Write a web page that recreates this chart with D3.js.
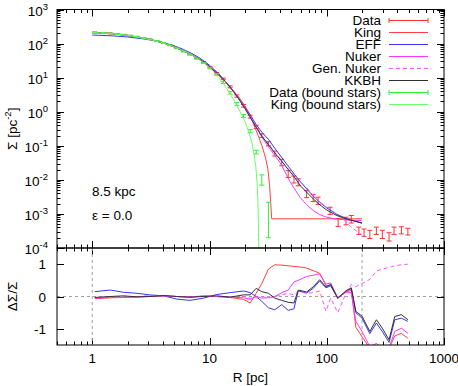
<!DOCTYPE html>
<html>
<head>
<meta charset="utf-8">
<script src="https://cdn.jsdelivr.net/npm/d3@7"></script>
<style>
    body { margin: 0; background: #fff; }
    svg { font-family: "Liberation Sans", Arial, sans-serif; }
</style>
</head>
<body>
<div id="visualization"></div>
<script>
// surface density profile, R in pc, Sigma in pc^-2
var dataR     = [1.05, 1.25, 1.42, 1.62, 1.85, 2.1, 2.4, 2.75, 3.1, 3.55, 4.05, 4.6, 5.25, 6.0, 6.8, 7.8, 8.9, 10.1, 11.5, 13.1, 15.0, 17.1, 19.5, 22.2, 25.0, 27.9, 31.8, 36.0, 41.3, 46.9, 52.5, 57.1, 67.3, 76.6, 84.3, 106.7, 125, 146, 162, 188, 208, 233, 265, 298, 340, 375, 433, 492];
var dataSigma = [210, 205, 198, 190, 180, 170, 158, 145, 133, 120, 104, 90, 74, 60, 49, 37.5, 28.5, 20, 13.4, 9.2, 5.4, 2.9, 1.5, 0.72, 0.36, 0.2, 0.116, 0.06, 0.033, 0.0152, 0.0105, 0.0087, 0.0039, 0.0030, 0.0025, 0.00127, 0.00058, 0.00064, 0.00072, 0.00033, 0.00029, 0.00026, 0.00033, 0.00026, 0.00022, 0.00033, 0.00034, 0.00031];
var dataErr   = [6, 6, 5, 5, 5, 4, 4, 4, 3, 3, 3, 2.5, 2, 2, 1.6, 1.3, 1.1, 0.9, 0.7, 0.5, 0.35, 0.22, 0.13, 0.07, 0.04, 0.025, 0.016, 0.01, 0.007, 0.0035, 0.0024, 0.002, 0.0009, 0.0007, 0.0006, 0.0003, 0.00015, 0.00016, 0.00018, 0.00008, 0.00007, 0.00007, 0.00008, 0.00007, 0.00006, 0.00008, 0.00008, 0.00007];

var boundR     = [1.05, 1.25, 1.42, 1.62, 1.85, 2.1, 2.4, 2.75, 3.1, 3.55, 4.05, 4.6, 5.25, 6.0, 6.8, 7.8, 8.9, 10.1, 11.5, 13.1, 15.0, 17.1, 19.5, 22.2, 25.0, 27.9, 31.8];
var boundSigma = [212, 207, 200, 192, 182, 171, 159, 146, 133, 119, 104, 89, 73, 59, 47.5, 36, 27, 19, 12.5, 7.2, 3.6, 1.7, 0.75, 0.27, 0.066, 0.0105, 0.0012];
var boundErr   = [6, 6, 5, 5, 5, 4, 4, 4, 3, 3, 3, 2.5, 2, 2, 1.6, 1.3, 1.1, 0.9, 0.7, 0.5, 0.3, 0.17, 0.08, 0.03, 0.008, 0.0035, 0.001];

// model fits
var kingR     = [1.0, 1.5, 2, 3, 4, 5, 6, 7, 8, 9, 10, 12, 14, 16, 18, 20, 22, 24, 26, 28, 30, 31.5, 32.5, 33.3, 33.9, 50, 100, 150, 200];
var kingSigma = [215, 198, 176, 138, 107, 81, 62, 48, 37, 28.5, 21, 11.8, 7, 4.1, 2.5, 1.5, 0.85, 0.4, 0.2, 0.1, 0.045, 0.02, 0.007, 0.002, 0.00072, 0.00072, 0.00072, 0.00072, 0.00072];

var effR     = [1.0, 1.5, 2, 3, 4, 5, 6, 7, 8, 9, 10, 12, 14, 16, 18, 20, 22, 25, 28, 32, 36, 41, 47, 53, 60, 70, 80, 90, 100, 120, 150, 200];
var effSigma = [178, 168, 156, 132, 108, 86, 67, 52, 40, 30.5, 23, 13, 7.0, 4.0, 2.3, 1.35, 0.85, 0.42, 0.25, 0.15, 0.085, 0.047, 0.025, 0.0145, 0.0085, 0.0047, 0.0029, 0.002, 0.0015, 0.001, 0.00071, 0.00053];

var nukerR     = [1.0, 1.5, 2, 3, 4, 5, 6, 7, 8, 9, 10, 12, 14, 16, 18, 20, 22, 25, 28, 32, 36, 40, 44, 48.5, 53, 59, 67, 76.5, 87, 99, 115, 129, 160, 198];
var nukerSigma = [215, 197, 175, 137, 106, 80, 61, 47, 36.5, 28, 21.5, 12.2, 7, 4, 2.3, 1.3, 0.76, 0.36, 0.18, 0.09, 0.052, 0.032, 0.017, 0.009, 0.0055, 0.0031, 0.0019, 0.00127, 0.00096, 0.00081, 0.00072, 0.00069, 0.00066, 0.00064];

var genR     = [1.0, 1.5, 2, 3, 4, 5, 6, 7, 8, 9, 10, 12, 14, 16, 18, 20, 22, 25, 28, 32, 36, 41, 47, 53, 59, 67, 80, 95, 113, 135, 157, 180, 198];
var genSigma = [212, 193, 172, 135, 105, 79, 60, 46.5, 36, 28, 21, 12, 6.9, 3.9, 2.2, 1.25, 0.73, 0.37, 0.2, 0.11, 0.065, 0.037, 0.021, 0.013, 0.0087, 0.0061, 0.0029, 0.0018, 0.0012, 0.00075, 0.00045, 0.00031, 0.00025];

var kkbhR     = [1.0, 1.5, 2, 3, 4, 5, 6, 7, 8, 9, 10, 12, 14, 16, 18, 20, 22, 25, 28, 32, 36, 41, 47, 53, 60, 70, 80, 90, 100, 120, 150, 200];
var kkbhSigma = [212, 193, 172, 135, 105, 79, 60, 46.5, 36, 28, 21, 12, 6.9, 3.9, 2.2, 1.25, 0.72, 0.35, 0.19, 0.105, 0.062, 0.036, 0.02, 0.012, 0.0065, 0.0038, 0.0024, 0.0017, 0.0013, 0.00092, 0.00069, 0.00055];

var kingBoundR     = [1.0, 1.5, 2, 3, 4, 5, 6, 7, 8, 9, 10, 11, 12, 13, 14, 15, 16, 17, 18, 19, 20, 21, 22, 23, 24, 24.8, 25.4, 25.8, 26.1, 26.3];
var kingBoundSigma = [212, 194, 173, 135, 105, 80, 61, 47, 35.5, 26.5, 19.5, 14, 10, 7.0, 4.8, 3.3, 2.3, 1.6, 1.1, 0.75, 0.52, 0.34, 0.21, 0.12, 0.055, 0.025, 0.009, 0.0028, 0.0006, 0.00008];

// residuals (data - model) / data
var resR     = [1.05, 1.42, 1.85, 2.4, 3.1, 4.05, 5.25, 6.8, 8.9, 11.5, 15.0, 19.5, 22.2, 25.0, 27.9, 31.8, 36.0, 41.3, 46.9, 52.5, 57.1, 67.3, 76.6, 87, 98.5, 108, 124, 146, 162, 177, 200, 233, 265, 300, 340, 380, 433, 492];
var resKing  = [-0.07, -0.04, -0.03, -0.02, 0.0, 0.02, 0.0, -0.02, 0.02, 0.0, -0.03, -0.09, -0.2, 0.1, 0.4, 0.85, 0.98, 0.97, 0.95, 0.93, 0.92, 0.88, 0.8, 0.72, 0.33, 0.36, -0.05, 0.14, 0.19, -0.95, -1.25, -1.6, -1.6, -1.6, -1.6, -1.22, -1.14, -1.29];
var resEff   = [0.15, 0.2, 0.13, 0.1, 0.05, 0.02, -0.08, -0.12, -0.05, 0.06, 0.12, 0.17, 0.12, 0.0, -0.15, -0.35, -0.41, -0.25, -0.43, -0.38, 0.17, 0.11, 0.25, 0.48, 0.27, 0.33, -0.04, 0.16, 0.24, -0.5, -0.67, -1.15, -0.82, -1.1, -1.42, -0.72, -0.67, -0.77];
var resNuker = [-0.05, -0.03, -0.02, -0.01, 0.01, 0.02, 0.0, -0.02, 0.01, 0.0, -0.02, -0.04, -0.09, 0.0, -0.05, -0.04, 0.0, 0.12, 0.2, 0.45, 0.5, 0.62, 0.66, 0.7, 0.38, 0.42, -0.04, 0.14, 0.12, -0.77, -1.08, -1.55, -1.45, -1.6, -1.6, -1.08, -0.98, -1.14];
var resGen   = [-0.03, -0.02, -0.01, 0.0, 0.02, 0.02, 0.0, -0.02, 0.01, 0.0, -0.02, 0.0, -0.05, -0.05, 0.0, -0.05, 0.0, 0.05, 0.1, 0.05, 0.15, 0.1, 0.12, 0.17, -0.46, -0.05, -0.5, 0.1, 0.37, 0.3, 0.4, 0.53, 0.79, 0.85, 0.9, 0.95, 0.98, 1.0];
var resKkbh  = [-0.03, 0.0, 0.02, -0.01, 0.0, 0.03, 0.0, -0.02, 0.0, 0.02, -0.02, 0.05, 0.05, 0.25, 0.15, 0.1, -0.05, -0.12, -0.18, -0.2, 0.2, 0.14, 0.3, 0.52, 0.29, 0.38, -0.06, 0.18, 0.27, -0.46, -0.61, -1.08, -0.72, -1.0, -1.34, -0.62, -0.56, -0.72];

var xTickValues = [1, 10, 100, 1000];
var yTickExponents = [-4, -3, -2, -1, 0, 1, 2, 3];
var resTickValues = [-1, 0, 1];

var colors = {
    data: "#ff3030", king: "#ff4040", eff: "#3535ff", nuker: "#ff35ff",
    gen: "#ff55ff", kkbh: "#303030", bound: "#33ee33", kingBound: "#66ff66"
};

var w = 458, h = 386;
var left = 57, right = 444, plotTop = 9.5, mid = 248, bottom = 345;
var fontSize = 13.5;

var svg = d3.select("#visualization").append("svg")
    .attr("width", w)
    .attr("height", h);

var x = d3.scaleLog().domain([0.5, 1000]).range([left, right]);
var y = d3.scaleLog().domain([1e-4, 1e3]).range([mid, plotTop]);
var yr = d3.scaleLinear().domain([-1.5, 1.5]).range([bottom, mid]);

// clip regions
var defs = svg.append("defs");
defs.append("clipPath").attr("id", "clipTop").append("rect")
    .attr("x", left).attr("y", plotTop).attr("width", right - left).attr("height", mid - plotTop);
defs.append("clipPath").attr("id", "clipBot").append("rect")
    .attr("x", left).attr("y", mid).attr("width", right - left).attr("height", bottom - mid);

// minor tick values
var xMinor = [];
[0.1, 1, 10, 100].forEach(function(d) {
    for (var k = 2; k <= 9; k++) {
        if (d * k >= 0.5 && d * k <= 1000) xMinor.push(d * k);
    }
});
var yMinor = [];
yTickExponents.forEach(function(e) {
    if (e === 3) return;
    for (var k = 2; k <= 9; k++) yMinor.push(k * Math.pow(10, e));
});

function tickGroup(cls) {
    return svg.append("g").attr("class", cls)
        .attr("stroke", "#000").attr("stroke-width", 1).attr("fill", "none");
}

// ---- ticks, all pointing inward ----
var tTicks = tickGroup("ticks");
xTickValues.concat(xMinor).forEach(function(v) {
    var len = xTickValues.indexOf(v) >= 0 ? 7 : 3.5;
    var px = Math.round(x(v)) + 0.5;
    tTicks.append("line").attr("x1", px).attr("x2", px).attr("y1", plotTop).attr("y2", plotTop + len);
    // shared axis between panels: ticks both ways
    tTicks.append("line").attr("x1", px).attr("x2", px).attr("y1", mid - len).attr("y2", mid + len);
    tTicks.append("line").attr("x1", px).attr("x2", px).attr("y1", bottom).attr("y2", bottom - len);
});
yTickExponents.forEach(function(e) {
    var py = Math.round(y(Math.pow(10, e))) + 0.5;
    tTicks.append("line").attr("x1", left).attr("x2", left + 7).attr("y1", py).attr("y2", py);
    tTicks.append("line").attr("x1", right).attr("x2", right - 7).attr("y1", py).attr("y2", py);
});
yMinor.forEach(function(v) {
    var py = Math.round(y(v)) + 0.5;
    tTicks.append("line").attr("x1", left).attr("x2", left + 3.5).attr("y1", py).attr("y2", py);
    tTicks.append("line").attr("x1", right).attr("x2", right - 3.5).attr("y1", py).attr("y2", py);
});
resTickValues.forEach(function(v) {
    var py = Math.round(yr(v)) + 0.5;
    tTicks.append("line").attr("x1", left).attr("x2", left + 7).attr("y1", py).attr("y2", py);
    tTicks.append("line").attr("x1", right).attr("x2", right - 7).attr("y1", py).attr("y2", py);
});

// ---- labels ----
var yLab = svg.append("g").attr("font-size", fontSize).attr("fill", "#000");
yTickExponents.forEach(function(e) {
    var t = yLab.append("text")
        .attr("x", 48)
        .attr("y", y(Math.pow(10, e)) + 6)
        .attr("text-anchor", "end");
    t.append("tspan").text("10");
    t.append("tspan").attr("dy", -6).attr("font-size", 9.5).text(e);
});
resTickValues.forEach(function(v) {
    yLab.append("text")
        .attr("x", 46)
        .attr("y", yr(v) + 5)
        .attr("text-anchor", "end")
        .text(v);
});
xTickValues.forEach(function(v) {
    yLab.append("text")
        .attr("x", x(v))
        .attr("y", 363)
        .attr("text-anchor", "middle")
        .text(v);
});
yLab.append("text")
    .attr("x", (left + right) / 2)
    .attr("y", 382)
    .attr("text-anchor", "middle")
    .text("R [pc]");

var sigTitle = yLab.append("text")
    .attr("transform", "translate(17," + ((plotTop + mid) / 2) + ") rotate(-90)")
    .attr("text-anchor", "middle");
sigTitle.append("tspan").text("\u03A3 [pc");
sigTitle.append("tspan").attr("dy", -6).attr("font-size", 9.5).text("-2");
sigTitle.append("tspan").attr("dy", 6).text("]");

yLab.append("text")
    .attr("transform", "translate(17," + yr(0) + ") rotate(-90)")
    .attr("text-anchor", "middle")
    .text("\u0394\u03A3/\u03A3");

yLab.append("text").attr("x", 92).attr("y", 196).text("8.5 kpc");
yLab.append("text").attr("x", 92).attr("y", 220).text("\u03B5 = 0.0");

// ---- reference lines in residual panel ----
var ref = svg.append("g").attr("stroke", "#a0a0a0").attr("stroke-width", 1)
    .attr("stroke-dasharray", "3,3").attr("fill", "none");
ref.append("line").attr("x1", left).attr("x2", right).attr("y1", yr(0)).attr("y2", yr(0));
[1, 200].forEach(function(v) {
    ref.append("line").attr("x1", x(v)).attr("x2", x(v)).attr("y1", mid).attr("y2", bottom);
});

// ---- top panel curves ----
var topG = svg.append("g").attr("clip-path", "url(#clipTop)");

function curve(g, xs, ys, yScale, color, dash) {
    var pts = xs.map(function(d, i) { return [d, ys[i]]; });
    g.append("path")
        .datum(pts)
        .attr("fill", "none")
        .attr("stroke", color)
        .attr("stroke-width", 1)
        .attr("stroke-dasharray", dash || null)
        .attr("d", d3.line()
            .x(function(d) { return x(d[0]); })
            .y(function(d) { return yScale(d[1]); }));
}

function errorbars(g, xs, ys, es, color) {
    var eb = g.append("g").attr("stroke", color).attr("stroke-width", 1);
    xs.forEach(function(r, i) {
        var lo = Math.max(ys[i] - es[i], 1e-6), hi = ys[i] + es[i];
        var px = x(r);
        eb.append("line").attr("x1", px).attr("x2", px).attr("y1", y(lo)).attr("y2", y(hi));
        eb.append("line").attr("x1", px - 2.5).attr("x2", px + 2.5).attr("y1", y(lo)).attr("y2", y(lo));
        eb.append("line").attr("x1", px - 2.5).attr("x2", px + 2.5).attr("y1", y(hi)).attr("y2", y(hi));
    });
}

errorbars(topG, dataR, dataSigma, dataErr, colors.data);
curve(topG, kingR, kingSigma, y, colors.king);
curve(topG, effR, effSigma, y, colors.eff);
curve(topG, nukerR, nukerSigma, y, colors.nuker);
curve(topG, genR, genSigma, y, colors.gen, "4,3");
curve(topG, kkbhR, kkbhSigma, y, colors.kkbh);
errorbars(topG, boundR, boundSigma, boundErr, colors.bound);
curve(topG, kingBoundR, kingBoundSigma, y, colors.kingBound);

// ---- residual panel curves ----
var botG = svg.append("g").attr("clip-path", "url(#clipBot)");
curve(botG, resR, resKing, yr, colors.king);
curve(botG, resR, resEff, yr, colors.eff);
curve(botG, resR, resNuker, yr, colors.nuker);
curve(botG, resR, resGen, yr, colors.gen, "4,3");
curve(botG, resR, resKkbh, yr, colors.kkbh);

// ---- legend ----
var legendItems = [
    { label: "Data", color: colors.data, err: true },
    { label: "King", color: colors.king },
    { label: "EFF", color: colors.eff },
    { label: "Nuker", color: colors.nuker },
    { label: "Gen. Nuker", color: colors.gen, dash: "4,3" },
    { label: "KKBH", color: colors.kkbh },
    { label: "Data (bound stars)", color: colors.bound, err: true },
    { label: "King (bound stars)", color: colors.kingBound }
];
var legend = svg.append("g").attr("font-size", fontSize);
legendItems.forEach(function(d, i) {
    var ly = 20.5 + i * 12;
    legend.append("text")
        .attr("x", 381)
        .attr("y", ly + 4.8)
        .attr("text-anchor", "end")
        .text(d.label);
    legend.append("line")
        .attr("x1", 389).attr("x2", 428).attr("y1", ly).attr("y2", ly)
        .attr("stroke", d.color).attr("stroke-width", 1)
        .attr("stroke-dasharray", d.dash || null);
    if (d.err) {
        [389, 428].forEach(function(px) {
            legend.append("line")
                .attr("x1", px).attr("x2", px).attr("y1", ly - 2.5).attr("y2", ly + 2.5)
                .attr("stroke", d.color).attr("stroke-width", 1);
        });
    }
});

// ---- frames ----
svg.append("rect")
    .attr("x", left).attr("y", plotTop).attr("width", right - left).attr("height", mid - plotTop)
    .attr("fill", "none").attr("stroke", "#000").attr("stroke-width", 1);
svg.append("rect")
    .attr("x", left).attr("y", mid).attr("width", right - left).attr("height", bottom - mid)
    .attr("fill", "none").attr("stroke", "#000").attr("stroke-width", 1);
</script>
</body>
</html>
